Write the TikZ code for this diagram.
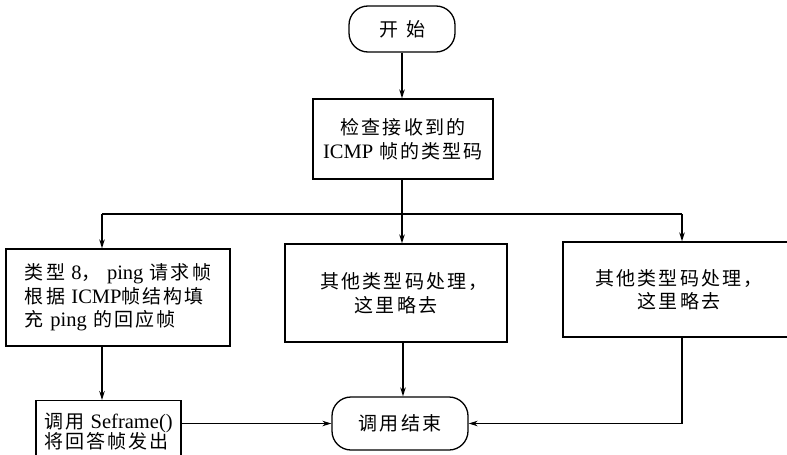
\documentclass[tikz,border=0pt]{standalone}
\usepackage{fontspec}
\setmainfont[LetterSpace=11]{Noto Sans CJK SC}
\newfontfamily\latinfont{Liberation Serif}
\newcommand\en[1]{{\latinfont\fontsize{20.5}{23}\selectfont #1}}
\newcommand\zh{\fontsize{19}{23.5}\selectfont}
\usetikzlibrary{arrows.meta}
\begin{document}
\begin{tikzpicture}[x=1pt,y=-1pt, line width=1.3pt,
  box/.style={draw, rectangle, inner sep=0pt, font=\zh, align=center},
  term/.style={draw, rectangle, rounded corners=19pt, inner sep=0pt, font=\zh, align=center},
  arr/.style={-{Stealth[length=9pt,width=5.5pt]}}]
\useasboundingbox (0,0) rectangle (787,455);
\clip (0,0) rectangle (787,455);
% nodes
\node[term, minimum width=106pt, minimum height=46pt] (start) at (402,29) {开\hspace{8pt}始};
\node[box, minimum width=180pt, minimum height=80pt] (check) at (403,139)
  {检查接收到的\\\en{ICMP} 帧的类型码};
\node[box, minimum width=224pt, minimum height=97pt, align=left] (left) at (118,297.5)
  {类型 \en{8}， \en{ping} 请求帧\\根据 \en{ICMP}帧结构填\\充 \en{ping} 的回应帧};
\node[box, minimum width=222pt, minimum height=98pt] (mid) at (396,293)
  {\hspace*{16pt}其他类型码处理，\\这里略去};
\node[box, minimum width=232pt, minimum height=95pt] (right) at (679,289.5)
  {其他类型码处理，\\这里略去};
\node[box, minimum width=145pt, minimum height=62pt, align=left, anchor=north,
  font=\fontsize{19}{20.5}\selectfont] (sef) at (108.5,400)
  {调用 \en{Seframe()}\\将回答帧发出};
\node[term, minimum width=136pt, minimum height=53pt] (end) at (400,423.5) {调用结束};
% helper coordinates
\coordinate (br) at (402,214);
\coordinate (lx) at (102,0);
\coordinate (mx) at (403,0);
\coordinate (rx) at (682,0);
% connectors
\draw[arr] (start) -- (start.south |- check.north);
\draw[arr] (check.south -| br) -- (mid.north -| br);
\draw (br) -- (br -| lx) (br) -- (br -| rx);
\draw[arr] (br -| lx) -- (left.north -| lx);
\draw[arr] (br -| rx) -- (right.north -| rx);
\draw[arr] (left.south -| lx) -- (sef.north -| lx);
\draw[arr] (mid.south -| mx) -- (end.north -| mx);
\draw[arr] (right.south -| rx) |- (end.east);
\draw[arr] (end.west -| sef.east) -- (end.west);
\end{tikzpicture}
\end{document}
